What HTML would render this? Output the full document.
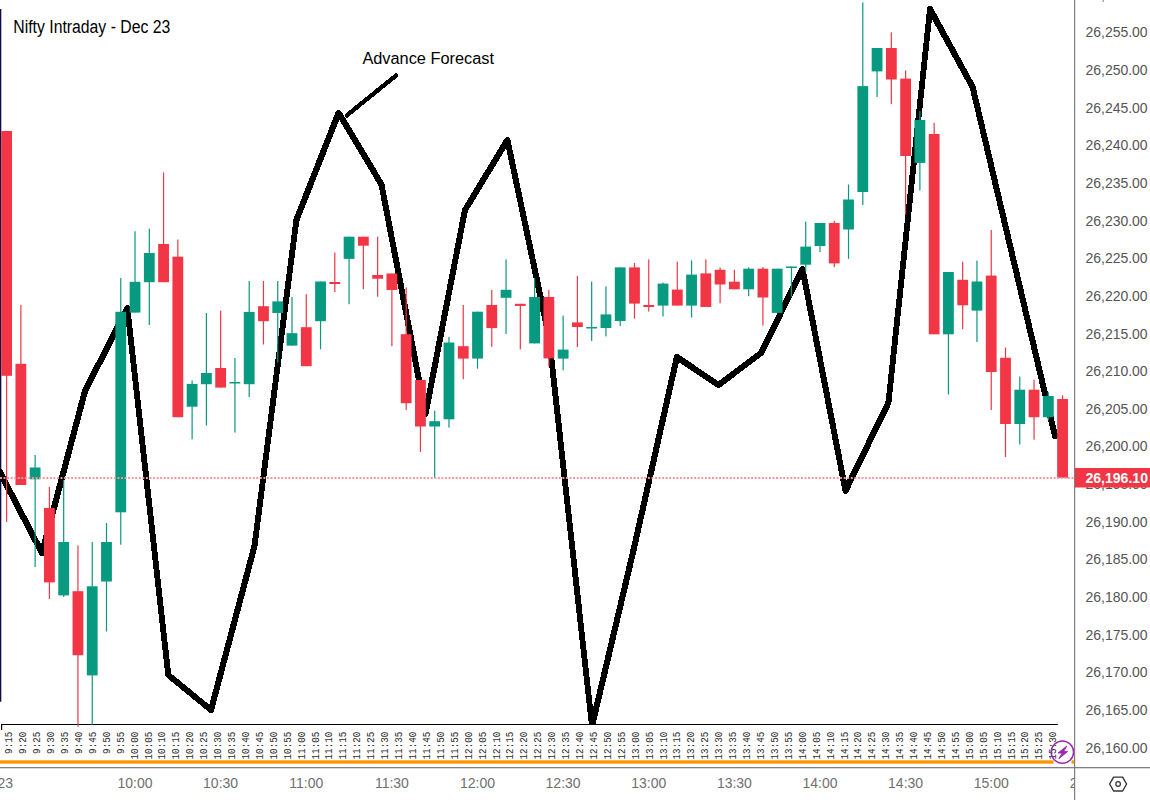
<!DOCTYPE html><html><head><meta charset="utf-8"><style>html,body{margin:0;padding:0;background:#fff;width:1150px;height:800px;overflow:hidden}svg{display:block}</style></head><body>
<svg width="1150" height="800" viewBox="0 0 1150 800" font-family="Liberation Sans, sans-serif">
<rect width="1150" height="800" fill="#fff"/>
<defs><clipPath id="pane"><rect x="0" y="0" width="1074.5" height="767"/></clipPath><clipPath id="plot"><rect x="0" y="0" width="1074.5" height="724"/></clipPath><clipPath id="taxis"><rect x="0" y="768" width="1074.5" height="32"/></clipPath></defs>
<g clip-path="url(#pane)">
<rect x="0" y="9" width="1.3" height="692.7" fill="#0b0b4a"/>
<g clip-path="url(#plot)">
<g fill="#000" shape-rendering="crispEdges">
<polygon points="-3.5,469.6 -2.0,468.2 0.7,468.2 2.1,469.6 44.8,551.6 44.8,554.4 43.4,555.8 40.6,555.8 39.2,554.4 -3.5,472.4"/>
<polygon points="39.2,551.6 82.2,389.6 83.7,388.2 86.3,388.2 87.8,389.6 87.8,392.4 44.8,554.4 43.4,555.8 40.6,555.8 39.2,554.4"/>
<polygon points="82.2,389.6 124.5,306.6 126.0,305.2 128.7,305.2 130.1,306.6 130.1,309.4 87.8,392.4 86.3,393.8 83.7,393.8 82.2,392.4"/>
<polygon points="124.5,306.6 126.0,305.2 128.7,305.2 130.1,306.6 171.1,673.6 171.1,676.4 169.7,677.8 166.9,677.8 165.5,676.4 124.5,309.4"/>
<polygon points="165.5,673.6 166.9,672.2 169.7,672.2 212.3,707.2 213.8,708.6 213.8,711.4 212.3,712.8 209.7,712.8 166.9,677.8 165.5,676.4"/>
<polygon points="208.2,708.6 251.7,544.6 253.2,543.2 255.8,543.2 257.3,544.6 257.3,547.4 213.8,711.4 212.3,712.8 209.7,712.8 208.2,711.4"/>
<polygon points="251.7,544.6 293.6,218.7 295.1,217.2 297.8,217.2 299.2,218.7 299.2,221.3 257.3,547.4 255.8,548.8 253.2,548.8 251.7,547.4"/>
<polygon points="293.6,218.7 335.8,111.5 337.2,110.1 339.9,110.1 341.4,111.5 341.4,114.2 299.2,221.3 297.8,222.8 295.1,222.8 293.6,221.3"/>
<polygon points="335.8,111.5 337.2,110.1 339.9,110.1 341.4,111.5 384.3,183.2 384.3,185.8 382.9,187.3 380.1,187.3 378.7,185.8 335.8,114.2"/>
<polygon points="378.7,183.2 380.1,181.7 382.9,181.7 384.3,183.2 428.3,412.6 428.3,415.4 426.9,416.8 424.1,416.8 422.7,415.4 378.7,185.8"/>
<polygon points="422.7,412.6 462.2,208.7 463.6,207.2 466.4,207.2 467.8,208.7 467.8,211.3 428.3,415.4 426.9,416.8 424.1,416.8 422.7,415.4"/>
<polygon points="462.2,208.7 504.6,138.7 506.1,137.2 508.8,137.2 510.2,138.7 510.2,141.3 467.8,211.3 466.4,212.8 463.6,212.8 462.2,211.3"/>
<polygon points="504.6,138.7 506.1,137.2 508.8,137.2 510.2,138.7 551.8,335.6 551.8,338.4 550.4,339.8 547.6,339.8 546.2,338.4 504.6,141.3"/>
<polygon points="546.2,335.6 547.6,334.2 550.4,334.2 551.8,335.6 594.8,724.6 594.8,727.4 593.4,728.8 590.6,728.8 589.2,727.4 546.2,338.4"/>
<polygon points="589.2,724.6 631.2,546.6 632.6,545.2 635.4,545.2 636.8,546.6 636.8,549.4 594.8,727.4 593.4,728.8 590.6,728.8 589.2,727.4"/>
<polygon points="631.2,546.6 674.1,355.6 675.5,354.2 678.2,354.2 679.7,355.6 679.7,358.4 636.8,549.4 635.4,550.8 632.6,550.8 631.2,549.4"/>
<polygon points="674.1,355.6 675.5,354.2 678.2,354.2 719.8,382.2 721.2,383.6 721.2,386.4 719.8,387.8 717.0,387.8 675.5,359.8 674.1,358.4"/>
<polygon points="715.6,383.6 717.0,382.2 759.6,350.2 762.4,350.2 763.8,351.6 763.8,354.4 762.4,355.8 719.8,387.8 717.0,387.8 715.6,386.4"/>
<polygon points="758.2,351.6 799.7,267.6 801.1,266.2 803.9,266.2 805.3,267.6 805.3,270.4 763.8,354.4 762.4,355.8 759.6,355.8 758.2,354.4"/>
<polygon points="799.7,267.6 801.1,266.2 803.9,266.2 805.3,267.6 848.3,489.4 848.3,492.1 846.9,493.6 844.1,493.6 842.7,492.1 799.7,270.4"/>
<polygon points="842.7,489.4 885.7,401.1 887.1,399.7 889.9,399.7 891.3,401.1 891.3,403.9 848.3,492.1 846.9,493.6 844.1,493.6 842.7,492.1"/>
<polygon points="885.7,401.1 927.2,7.7 928.6,6.2 931.4,6.2 932.8,7.7 932.8,10.3 891.3,403.9 889.9,405.3 887.1,405.3 885.7,403.9"/>
<polygon points="927.2,7.7 928.6,6.2 931.4,6.2 932.8,7.7 975.4,85.7 975.4,88.3 974.0,89.8 971.2,89.8 969.8,88.3 927.2,10.3"/>
<polygon points="969.8,85.7 971.2,84.2 974.0,84.2 975.4,85.7 1057.8,434.6 1057.8,437.4 1056.3,438.8 1053.7,438.8 1052.2,437.4 969.8,88.3"/>
</g>
<line x1="346.8" y1="115.4" x2="395.9" y2="75.6" stroke="#000" stroke-width="4.4" stroke-linecap="round" shape-rendering="crispEdges"/>
</g>
<rect x="1" y="724" width="1056.8" height="1" fill="#000"/>
<rect x="1" y="724" width="1.2" height="6" fill="#000"/>
<g>
<rect x="6.00" y="131.0" width="1.2" height="391.0" fill="#F23645"/>
<rect x="1.20" y="131.0" width="10.8" height="244.8" fill="#F23645"/>
<rect x="20.27" y="305.0" width="1.2" height="180.0" fill="#F23645"/>
<rect x="15.47" y="363.8" width="10.8" height="121.2" fill="#F23645"/>
<rect x="34.54" y="455.0" width="1.2" height="112.0" fill="#089981"/>
<rect x="29.74" y="467.5" width="10.8" height="11.8" fill="#089981"/>
<rect x="48.81" y="487.0" width="1.2" height="112.0" fill="#F23645"/>
<rect x="44.01" y="508.0" width="10.8" height="74.4" fill="#F23645"/>
<rect x="63.08" y="480.0" width="1.2" height="117.0" fill="#089981"/>
<rect x="58.28" y="542.0" width="10.8" height="53.4" fill="#089981"/>
<rect x="77.35" y="545.4" width="1.2" height="181.3" fill="#F23645"/>
<rect x="72.55" y="591.2" width="10.8" height="64.0" fill="#F23645"/>
<rect x="91.62" y="542.0" width="1.2" height="183.0" fill="#089981"/>
<rect x="86.82" y="586.3" width="10.8" height="89.1" fill="#089981"/>
<rect x="105.89" y="523.0" width="1.2" height="108.5" fill="#089981"/>
<rect x="101.09" y="542.0" width="10.8" height="39.5" fill="#089981"/>
<rect x="120.16" y="278.0" width="1.2" height="266.7" fill="#089981"/>
<rect x="115.36" y="311.8" width="10.8" height="200.5" fill="#089981"/>
<rect x="134.43" y="231.2" width="1.2" height="81.2" fill="#089981"/>
<rect x="129.63" y="281.8" width="10.8" height="30.8" fill="#089981"/>
<rect x="148.70" y="228.6" width="1.2" height="96.4" fill="#089981"/>
<rect x="143.90" y="253.0" width="10.8" height="29.2" fill="#089981"/>
<rect x="162.97" y="172.4" width="1.2" height="109.8" fill="#F23645"/>
<rect x="158.17" y="244.0" width="10.8" height="38.2" fill="#F23645"/>
<rect x="177.24" y="239.5" width="1.2" height="177.7" fill="#F23645"/>
<rect x="172.44" y="256.7" width="10.8" height="160.5" fill="#F23645"/>
<rect x="191.51" y="380.5" width="1.2" height="58.8" fill="#089981"/>
<rect x="186.71" y="383.9" width="10.8" height="22.8" fill="#089981"/>
<rect x="205.78" y="313.0" width="1.2" height="112.5" fill="#089981"/>
<rect x="200.98" y="373.0" width="10.8" height="11.2" fill="#089981"/>
<rect x="220.05" y="310.7" width="1.2" height="76.9" fill="#F23645"/>
<rect x="215.25" y="368.0" width="10.8" height="19.6" fill="#F23645"/>
<rect x="234.32" y="358.0" width="1.2" height="74.6" fill="#089981"/>
<rect x="229.52" y="382.0" width="10.8" height="1.5" fill="#089981"/>
<rect x="248.59" y="281.0" width="1.2" height="116.0" fill="#089981"/>
<rect x="243.79" y="311.9" width="10.8" height="72.3" fill="#089981"/>
<rect x="262.86" y="281.0" width="1.2" height="63.5" fill="#F23645"/>
<rect x="258.06" y="306.2" width="10.8" height="15.0" fill="#F23645"/>
<rect x="277.13" y="281.0" width="1.2" height="81.5" fill="#089981"/>
<rect x="272.33" y="301.4" width="10.8" height="11.6" fill="#089981"/>
<rect x="291.40" y="296.9" width="1.2" height="48.7" fill="#089981"/>
<rect x="286.60" y="333.2" width="10.8" height="12.4" fill="#089981"/>
<rect x="305.67" y="294.2" width="1.2" height="72.0" fill="#F23645"/>
<rect x="300.87" y="327.2" width="10.8" height="39.0" fill="#F23645"/>
<rect x="319.94" y="281.5" width="1.2" height="67.8" fill="#089981"/>
<rect x="315.14" y="281.5" width="10.8" height="39.7" fill="#089981"/>
<rect x="334.21" y="252.5" width="1.2" height="39.5" fill="#F23645"/>
<rect x="329.41" y="282.0" width="10.8" height="2.0" fill="#F23645"/>
<rect x="348.48" y="236.7" width="1.2" height="67.5" fill="#089981"/>
<rect x="343.68" y="236.7" width="10.8" height="22.2" fill="#089981"/>
<rect x="362.75" y="236.7" width="1.2" height="52.5" fill="#F23645"/>
<rect x="357.95" y="236.7" width="10.8" height="9.0" fill="#F23645"/>
<rect x="377.02" y="236.7" width="1.2" height="60.0" fill="#F23645"/>
<rect x="372.22" y="275.0" width="10.8" height="3.7" fill="#F23645"/>
<rect x="391.29" y="273.5" width="1.2" height="72.7" fill="#F23645"/>
<rect x="386.49" y="273.5" width="10.8" height="16.5" fill="#F23645"/>
<rect x="405.56" y="287.4" width="1.2" height="122.6" fill="#F23645"/>
<rect x="400.76" y="334.2" width="10.8" height="69.0" fill="#F23645"/>
<rect x="419.83" y="380.0" width="1.2" height="72.0" fill="#F23645"/>
<rect x="415.03" y="380.0" width="10.8" height="46.5" fill="#F23645"/>
<rect x="434.10" y="410.7" width="1.2" height="66.8" fill="#089981"/>
<rect x="429.30" y="421.2" width="10.8" height="5.3" fill="#089981"/>
<rect x="448.37" y="336.9" width="1.2" height="90.7" fill="#089981"/>
<rect x="443.57" y="342.5" width="10.8" height="76.8" fill="#089981"/>
<rect x="462.64" y="305.0" width="1.2" height="74.2" fill="#F23645"/>
<rect x="457.84" y="346.2" width="10.8" height="12.4" fill="#F23645"/>
<rect x="476.91" y="311.7" width="1.2" height="57.0" fill="#089981"/>
<rect x="472.11" y="311.7" width="10.8" height="46.9" fill="#089981"/>
<rect x="491.18" y="290.0" width="1.2" height="56.9" fill="#F23645"/>
<rect x="486.38" y="305.0" width="10.8" height="23.1" fill="#F23645"/>
<rect x="505.45" y="259.4" width="1.2" height="74.6" fill="#089981"/>
<rect x="500.65" y="289.8" width="10.8" height="8.0" fill="#089981"/>
<rect x="519.72" y="303.8" width="1.2" height="45.6" fill="#F23645"/>
<rect x="514.92" y="303.8" width="10.8" height="2.1" fill="#F23645"/>
<rect x="533.99" y="278.0" width="1.2" height="65.4" fill="#089981"/>
<rect x="529.19" y="297.0" width="10.8" height="46.4" fill="#089981"/>
<rect x="548.26" y="290.0" width="1.2" height="76.4" fill="#F23645"/>
<rect x="543.46" y="297.0" width="10.8" height="61.4" fill="#F23645"/>
<rect x="562.53" y="315.6" width="1.2" height="54.8" fill="#089981"/>
<rect x="557.73" y="349.6" width="10.8" height="9.0" fill="#089981"/>
<rect x="576.80" y="276.0" width="1.2" height="71.0" fill="#F23645"/>
<rect x="572.00" y="322.4" width="10.8" height="4.6" fill="#F23645"/>
<rect x="591.07" y="281.6" width="1.2" height="59.4" fill="#089981"/>
<rect x="586.27" y="327.0" width="10.8" height="1.5" fill="#089981"/>
<rect x="605.34" y="286.4" width="1.2" height="50.0" fill="#089981"/>
<rect x="600.54" y="314.4" width="10.8" height="13.6" fill="#089981"/>
<rect x="619.61" y="267.4" width="1.2" height="58.6" fill="#089981"/>
<rect x="614.81" y="267.4" width="10.8" height="53.6" fill="#089981"/>
<rect x="633.88" y="263.0" width="1.2" height="55.6" fill="#F23645"/>
<rect x="629.08" y="267.4" width="10.8" height="36.2" fill="#F23645"/>
<rect x="648.15" y="259.4" width="1.2" height="52.2" fill="#F23645"/>
<rect x="643.35" y="305.0" width="10.8" height="2.0" fill="#F23645"/>
<rect x="662.42" y="282.6" width="1.2" height="33.8" fill="#089981"/>
<rect x="657.62" y="283.6" width="10.8" height="22.0" fill="#089981"/>
<rect x="676.69" y="261.6" width="1.2" height="44.0" fill="#F23645"/>
<rect x="671.89" y="289.6" width="10.8" height="16.0" fill="#F23645"/>
<rect x="690.96" y="260.4" width="1.2" height="57.2" fill="#089981"/>
<rect x="686.16" y="274.6" width="10.8" height="31.0" fill="#089981"/>
<rect x="705.23" y="259.4" width="1.2" height="47.6" fill="#F23645"/>
<rect x="700.43" y="273.4" width="10.8" height="33.6" fill="#F23645"/>
<rect x="719.50" y="267.4" width="1.2" height="35.8" fill="#F23645"/>
<rect x="714.70" y="269.8" width="10.8" height="14.7" fill="#F23645"/>
<rect x="733.77" y="269.8" width="1.2" height="19.5" fill="#F23645"/>
<rect x="728.97" y="281.7" width="10.8" height="7.6" fill="#F23645"/>
<rect x="748.04" y="267.4" width="1.2" height="28.8" fill="#089981"/>
<rect x="743.24" y="268.7" width="10.8" height="20.6" fill="#089981"/>
<rect x="762.31" y="267.0" width="1.2" height="58.6" fill="#F23645"/>
<rect x="757.51" y="268.7" width="10.8" height="28.8" fill="#F23645"/>
<rect x="776.58" y="268.7" width="1.2" height="44.2" fill="#089981"/>
<rect x="771.78" y="268.7" width="10.8" height="44.2" fill="#089981"/>
<rect x="790.85" y="266.5" width="1.2" height="30.2" fill="#089981"/>
<rect x="786.05" y="266.5" width="10.8" height="1.5" fill="#089981"/>
<rect x="805.12" y="221.6" width="1.2" height="49.9" fill="#089981"/>
<rect x="800.32" y="246.6" width="10.8" height="18.1" fill="#089981"/>
<rect x="819.39" y="223.0" width="1.2" height="29.0" fill="#089981"/>
<rect x="814.59" y="223.0" width="10.8" height="23.0" fill="#089981"/>
<rect x="833.66" y="220.8" width="1.2" height="46.2" fill="#F23645"/>
<rect x="828.86" y="223.0" width="10.8" height="40.4" fill="#F23645"/>
<rect x="847.93" y="184.5" width="1.2" height="74.3" fill="#089981"/>
<rect x="843.13" y="199.5" width="10.8" height="30.0" fill="#089981"/>
<rect x="862.20" y="2.4" width="1.2" height="202.6" fill="#089981"/>
<rect x="857.40" y="86.1" width="10.8" height="105.9" fill="#089981"/>
<rect x="876.47" y="48.0" width="1.2" height="49.0" fill="#089981"/>
<rect x="871.67" y="48.0" width="10.8" height="23.4" fill="#089981"/>
<rect x="890.74" y="32.4" width="1.2" height="71.7" fill="#F23645"/>
<rect x="885.94" y="48.0" width="10.8" height="31.5" fill="#F23645"/>
<rect x="905.01" y="70.5" width="1.2" height="144.0" fill="#F23645"/>
<rect x="900.21" y="78.6" width="10.8" height="77.4" fill="#F23645"/>
<rect x="919.28" y="111.0" width="1.2" height="79.5" fill="#089981"/>
<rect x="914.48" y="120.0" width="10.8" height="42.9" fill="#089981"/>
<rect x="933.55" y="122.8" width="1.2" height="211.5" fill="#F23645"/>
<rect x="928.75" y="134.0" width="10.8" height="200.3" fill="#F23645"/>
<rect x="947.82" y="272.0" width="1.2" height="122.5" fill="#089981"/>
<rect x="943.02" y="272.0" width="10.8" height="62.3" fill="#089981"/>
<rect x="962.09" y="261.6" width="1.2" height="67.5" fill="#F23645"/>
<rect x="957.29" y="279.8" width="10.8" height="25.5" fill="#F23645"/>
<rect x="976.36" y="260.6" width="1.2" height="81.4" fill="#089981"/>
<rect x="971.56" y="281.5" width="10.8" height="29.1" fill="#089981"/>
<rect x="990.63" y="230.0" width="1.2" height="180.0" fill="#F23645"/>
<rect x="985.83" y="275.6" width="10.8" height="96.4" fill="#F23645"/>
<rect x="1004.90" y="347.5" width="1.2" height="109.4" fill="#F23645"/>
<rect x="1000.10" y="357.8" width="10.8" height="66.2" fill="#F23645"/>
<rect x="1019.17" y="376.6" width="1.2" height="67.8" fill="#089981"/>
<rect x="1014.37" y="389.7" width="10.8" height="34.3" fill="#089981"/>
<rect x="1033.44" y="379.7" width="1.2" height="60.0" fill="#F23645"/>
<rect x="1028.64" y="389.7" width="10.8" height="27.5" fill="#F23645"/>
<rect x="1047.71" y="392.2" width="1.2" height="28.1" fill="#089981"/>
<rect x="1042.91" y="396.0" width="10.8" height="21.2" fill="#089981"/>
<rect x="1061.98" y="395.3" width="1.2" height="82.5" fill="#F23645"/>
<rect x="1057.18" y="399.0" width="10.8" height="78.8" fill="#F23645"/>
</g>
<line x1="0" y1="477.9" x2="1074" y2="477.9" stroke="#F4959D" stroke-width="2" stroke-dasharray="1.9 1.66"/>
<g font-family="Liberation Mono, monospace" font-size="11" fill="#2e2e2e" text-anchor="end">
<text transform="translate(12.30,731.8) rotate(-90)" textLength="22.1" lengthAdjust="spacingAndGlyphs">9:15</text>
<text transform="translate(26.22,731.8) rotate(-90)" textLength="22.1" lengthAdjust="spacingAndGlyphs">9:20</text>
<text transform="translate(40.14,731.8) rotate(-90)" textLength="22.1" lengthAdjust="spacingAndGlyphs">9:25</text>
<text transform="translate(54.06,731.8) rotate(-90)" textLength="22.1" lengthAdjust="spacingAndGlyphs">9:30</text>
<text transform="translate(67.98,731.8) rotate(-90)" textLength="22.1" lengthAdjust="spacingAndGlyphs">9:35</text>
<text transform="translate(81.90,731.8) rotate(-90)" textLength="22.1" lengthAdjust="spacingAndGlyphs">9:40</text>
<text transform="translate(95.82,731.8) rotate(-90)" textLength="22.1" lengthAdjust="spacingAndGlyphs">9:45</text>
<text transform="translate(109.74,731.8) rotate(-90)" textLength="22.1" lengthAdjust="spacingAndGlyphs">9:50</text>
<text transform="translate(123.66,731.8) rotate(-90)" textLength="22.1" lengthAdjust="spacingAndGlyphs">9:55</text>
<text transform="translate(137.58,731.8) rotate(-90)" textLength="27.6" lengthAdjust="spacingAndGlyphs">10:00</text>
<text transform="translate(151.50,731.8) rotate(-90)" textLength="27.6" lengthAdjust="spacingAndGlyphs">10:05</text>
<text transform="translate(165.42,731.8) rotate(-90)" textLength="27.6" lengthAdjust="spacingAndGlyphs">10:10</text>
<text transform="translate(179.34,731.8) rotate(-90)" textLength="27.6" lengthAdjust="spacingAndGlyphs">10:15</text>
<text transform="translate(193.26,731.8) rotate(-90)" textLength="27.6" lengthAdjust="spacingAndGlyphs">10:20</text>
<text transform="translate(207.18,731.8) rotate(-90)" textLength="27.6" lengthAdjust="spacingAndGlyphs">10:25</text>
<text transform="translate(221.10,731.8) rotate(-90)" textLength="27.6" lengthAdjust="spacingAndGlyphs">10:30</text>
<text transform="translate(235.02,731.8) rotate(-90)" textLength="27.6" lengthAdjust="spacingAndGlyphs">10:35</text>
<text transform="translate(248.94,731.8) rotate(-90)" textLength="27.6" lengthAdjust="spacingAndGlyphs">10:40</text>
<text transform="translate(262.86,731.8) rotate(-90)" textLength="27.6" lengthAdjust="spacingAndGlyphs">10:45</text>
<text transform="translate(276.78,731.8) rotate(-90)" textLength="27.6" lengthAdjust="spacingAndGlyphs">10:50</text>
<text transform="translate(290.70,731.8) rotate(-90)" textLength="27.6" lengthAdjust="spacingAndGlyphs">10:55</text>
<text transform="translate(304.62,731.8) rotate(-90)" textLength="27.6" lengthAdjust="spacingAndGlyphs">11:00</text>
<text transform="translate(318.54,731.8) rotate(-90)" textLength="27.6" lengthAdjust="spacingAndGlyphs">11:05</text>
<text transform="translate(332.46,731.8) rotate(-90)" textLength="27.6" lengthAdjust="spacingAndGlyphs">11:10</text>
<text transform="translate(346.38,731.8) rotate(-90)" textLength="27.6" lengthAdjust="spacingAndGlyphs">11:15</text>
<text transform="translate(360.30,731.8) rotate(-90)" textLength="27.6" lengthAdjust="spacingAndGlyphs">11:20</text>
<text transform="translate(374.22,731.8) rotate(-90)" textLength="27.6" lengthAdjust="spacingAndGlyphs">11:25</text>
<text transform="translate(388.14,731.8) rotate(-90)" textLength="27.6" lengthAdjust="spacingAndGlyphs">11:30</text>
<text transform="translate(402.06,731.8) rotate(-90)" textLength="27.6" lengthAdjust="spacingAndGlyphs">11:35</text>
<text transform="translate(415.98,731.8) rotate(-90)" textLength="27.6" lengthAdjust="spacingAndGlyphs">11:40</text>
<text transform="translate(429.90,731.8) rotate(-90)" textLength="27.6" lengthAdjust="spacingAndGlyphs">11:45</text>
<text transform="translate(443.82,731.8) rotate(-90)" textLength="27.6" lengthAdjust="spacingAndGlyphs">11:50</text>
<text transform="translate(457.74,731.8) rotate(-90)" textLength="27.6" lengthAdjust="spacingAndGlyphs">11:55</text>
<text transform="translate(471.66,731.8) rotate(-90)" textLength="27.6" lengthAdjust="spacingAndGlyphs">12:00</text>
<text transform="translate(485.58,731.8) rotate(-90)" textLength="27.6" lengthAdjust="spacingAndGlyphs">12:05</text>
<text transform="translate(499.50,731.8) rotate(-90)" textLength="27.6" lengthAdjust="spacingAndGlyphs">12:10</text>
<text transform="translate(513.42,731.8) rotate(-90)" textLength="27.6" lengthAdjust="spacingAndGlyphs">12:15</text>
<text transform="translate(527.34,731.8) rotate(-90)" textLength="27.6" lengthAdjust="spacingAndGlyphs">12:20</text>
<text transform="translate(541.26,731.8) rotate(-90)" textLength="27.6" lengthAdjust="spacingAndGlyphs">12:25</text>
<text transform="translate(555.18,731.8) rotate(-90)" textLength="27.6" lengthAdjust="spacingAndGlyphs">12:30</text>
<text transform="translate(569.10,731.8) rotate(-90)" textLength="27.6" lengthAdjust="spacingAndGlyphs">12:35</text>
<text transform="translate(583.02,731.8) rotate(-90)" textLength="27.6" lengthAdjust="spacingAndGlyphs">12:40</text>
<text transform="translate(596.94,731.8) rotate(-90)" textLength="27.6" lengthAdjust="spacingAndGlyphs">12:45</text>
<text transform="translate(610.86,731.8) rotate(-90)" textLength="27.6" lengthAdjust="spacingAndGlyphs">12:50</text>
<text transform="translate(624.78,731.8) rotate(-90)" textLength="27.6" lengthAdjust="spacingAndGlyphs">12:55</text>
<text transform="translate(638.70,731.8) rotate(-90)" textLength="27.6" lengthAdjust="spacingAndGlyphs">13:00</text>
<text transform="translate(652.62,731.8) rotate(-90)" textLength="27.6" lengthAdjust="spacingAndGlyphs">13:05</text>
<text transform="translate(666.54,731.8) rotate(-90)" textLength="27.6" lengthAdjust="spacingAndGlyphs">13:10</text>
<text transform="translate(680.46,731.8) rotate(-90)" textLength="27.6" lengthAdjust="spacingAndGlyphs">13:15</text>
<text transform="translate(694.38,731.8) rotate(-90)" textLength="27.6" lengthAdjust="spacingAndGlyphs">13:20</text>
<text transform="translate(708.30,731.8) rotate(-90)" textLength="27.6" lengthAdjust="spacingAndGlyphs">13:25</text>
<text transform="translate(722.22,731.8) rotate(-90)" textLength="27.6" lengthAdjust="spacingAndGlyphs">13:30</text>
<text transform="translate(736.14,731.8) rotate(-90)" textLength="27.6" lengthAdjust="spacingAndGlyphs">13:35</text>
<text transform="translate(750.06,731.8) rotate(-90)" textLength="27.6" lengthAdjust="spacingAndGlyphs">13:40</text>
<text transform="translate(763.98,731.8) rotate(-90)" textLength="27.6" lengthAdjust="spacingAndGlyphs">13:45</text>
<text transform="translate(777.90,731.8) rotate(-90)" textLength="27.6" lengthAdjust="spacingAndGlyphs">13:50</text>
<text transform="translate(791.82,731.8) rotate(-90)" textLength="27.6" lengthAdjust="spacingAndGlyphs">13:55</text>
<text transform="translate(805.74,731.8) rotate(-90)" textLength="27.6" lengthAdjust="spacingAndGlyphs">14:00</text>
<text transform="translate(819.66,731.8) rotate(-90)" textLength="27.6" lengthAdjust="spacingAndGlyphs">14:05</text>
<text transform="translate(833.58,731.8) rotate(-90)" textLength="27.6" lengthAdjust="spacingAndGlyphs">14:10</text>
<text transform="translate(847.50,731.8) rotate(-90)" textLength="27.6" lengthAdjust="spacingAndGlyphs">14:15</text>
<text transform="translate(861.42,731.8) rotate(-90)" textLength="27.6" lengthAdjust="spacingAndGlyphs">14:20</text>
<text transform="translate(875.34,731.8) rotate(-90)" textLength="27.6" lengthAdjust="spacingAndGlyphs">14:25</text>
<text transform="translate(889.26,731.8) rotate(-90)" textLength="27.6" lengthAdjust="spacingAndGlyphs">14:30</text>
<text transform="translate(903.18,731.8) rotate(-90)" textLength="27.6" lengthAdjust="spacingAndGlyphs">14:35</text>
<text transform="translate(917.10,731.8) rotate(-90)" textLength="27.6" lengthAdjust="spacingAndGlyphs">14:40</text>
<text transform="translate(931.02,731.8) rotate(-90)" textLength="27.6" lengthAdjust="spacingAndGlyphs">14:45</text>
<text transform="translate(944.94,731.8) rotate(-90)" textLength="27.6" lengthAdjust="spacingAndGlyphs">14:50</text>
<text transform="translate(958.86,731.8) rotate(-90)" textLength="27.6" lengthAdjust="spacingAndGlyphs">14:55</text>
<text transform="translate(972.78,731.8) rotate(-90)" textLength="27.6" lengthAdjust="spacingAndGlyphs">15:00</text>
<text transform="translate(986.70,731.8) rotate(-90)" textLength="27.6" lengthAdjust="spacingAndGlyphs">15:05</text>
<text transform="translate(1000.62,731.8) rotate(-90)" textLength="27.6" lengthAdjust="spacingAndGlyphs">15:10</text>
<text transform="translate(1014.54,731.8) rotate(-90)" textLength="27.6" lengthAdjust="spacingAndGlyphs">15:15</text>
<text transform="translate(1028.46,731.8) rotate(-90)" textLength="27.6" lengthAdjust="spacingAndGlyphs">15:20</text>
<text transform="translate(1042.38,731.8) rotate(-90)" textLength="27.6" lengthAdjust="spacingAndGlyphs">15:25</text>
<text transform="translate(1056.30,731.8) rotate(-90)" textLength="27.6" lengthAdjust="spacingAndGlyphs">15:30</text>
</g>
<rect x="0" y="760.3" width="1053.5" height="3.4" fill="#FF9800"/>
<rect x="1071.5" y="760.3" width="3" height="3.4" fill="#FF9800"/>
<circle cx="1062.4" cy="752.1" r="11.2" fill="none" stroke="#9C27B0" stroke-width="1.5"/>
<polygon points="1066.8,746.0 1058.0,753.0 1062.2,753.0 1058.8,758.8 1067.6,751.6 1063.6,751.6" fill="#9C27B0" stroke="#9C27B0" stroke-width="0.9" stroke-linejoin="round"/>
<text x="13.3" y="33.2" font-size="18" fill="#000" textLength="157" lengthAdjust="spacingAndGlyphs">Nifty Intraday - Dec 23</text>
<text x="362.4" y="63.9" font-size="16" fill="#000" textLength="131.6" lengthAdjust="spacingAndGlyphs">Advance Forecast</text>
</g>
<rect x="1074" y="0" width="1.2" height="800" fill="#808080"/>
<g font-size="14" fill="#555">
<text x="1085.6" y="-38.0" textLength="62" lengthAdjust="spacing">26,265.00</text>
<text x="1085.6" y="-0.4" textLength="62" lengthAdjust="spacing">26,260.00</text>
<text x="1085.6" y="37.3" textLength="62" lengthAdjust="spacing">26,255.00</text>
<text x="1085.6" y="74.9" textLength="62" lengthAdjust="spacing">26,250.00</text>
<text x="1085.6" y="112.6" textLength="62" lengthAdjust="spacing">26,245.00</text>
<text x="1085.6" y="150.2" textLength="62" lengthAdjust="spacing">26,240.00</text>
<text x="1085.6" y="187.9" textLength="62" lengthAdjust="spacing">26,235.00</text>
<text x="1085.6" y="225.5" textLength="62" lengthAdjust="spacing">26,230.00</text>
<text x="1085.6" y="263.2" textLength="62" lengthAdjust="spacing">26,225.00</text>
<text x="1085.6" y="300.8" textLength="62" lengthAdjust="spacing">26,220.00</text>
<text x="1085.6" y="338.5" textLength="62" lengthAdjust="spacing">26,215.00</text>
<text x="1085.6" y="376.1" textLength="62" lengthAdjust="spacing">26,210.00</text>
<text x="1085.6" y="413.8" textLength="62" lengthAdjust="spacing">26,205.00</text>
<text x="1085.6" y="451.4" textLength="62" lengthAdjust="spacing">26,200.00</text>
<text x="1085.6" y="489.1" textLength="62" lengthAdjust="spacing">26,195.00</text>
<text x="1085.6" y="526.7" textLength="62" lengthAdjust="spacing">26,190.00</text>
<text x="1085.6" y="564.4" textLength="62" lengthAdjust="spacing">26,185.00</text>
<text x="1085.6" y="602.0" textLength="62" lengthAdjust="spacing">26,180.00</text>
<text x="1085.6" y="639.7" textLength="62" lengthAdjust="spacing">26,175.00</text>
<text x="1085.6" y="677.3" textLength="62" lengthAdjust="spacing">26,170.00</text>
<text x="1085.6" y="715.0" textLength="62" lengthAdjust="spacing">26,165.00</text>
<text x="1085.6" y="752.6" textLength="62" lengthAdjust="spacing">26,160.00</text>
</g>
<rect x="1075" y="468" width="75" height="19.5" fill="#F23645"/>
<text x="1085.4" y="482.8" font-size="14" font-weight="bold" fill="#fff" textLength="62.6" lengthAdjust="spacingAndGlyphs">26,196.10</text>
<rect x="0" y="767" width="1150" height="1.3" fill="#808080"/>
<g font-size="14" fill="#6f6f6f" text-anchor="middle">
<text x="135.0" y="788">10:00</text>
<text x="220.6" y="788">10:30</text>
<text x="306.3" y="788">11:00</text>
<text x="391.9" y="788">11:30</text>
<text x="477.5" y="788">12:00</text>
<text x="563.1" y="788">12:30</text>
<text x="648.8" y="788">13:00</text>
<text x="734.4" y="788">13:30</text>
<text x="820.0" y="788">14:00</text>
<text x="905.6" y="788">14:30</text>
<text x="991.2" y="788">15:00</text>
<text x="5.2" y="788">23</text>
</g>
<g clip-path="url(#taxis)"><text x="1069.8" y="788" font-size="14" fill="#6f6f6f">24</text></g>
<polygon points="1109.6,784 1113.6,777.1 1122.6,777.1 1126.6,784 1122.6,791 1113.6,791" fill="none" stroke="#333" stroke-width="1.4" stroke-linejoin="round"/>
<circle cx="1118.1" cy="784" r="2.3" fill="none" stroke="#333" stroke-width="1.2"/>
</svg></body></html>
